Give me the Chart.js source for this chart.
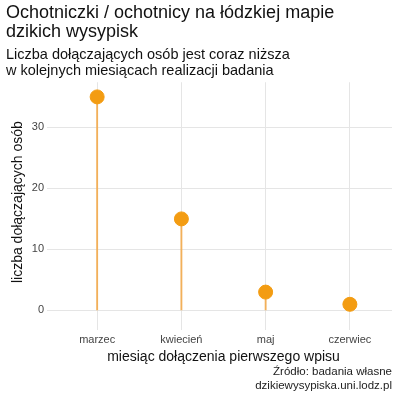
<!DOCTYPE html>
<html><head><meta charset="utf-8">
<script src="https://cdn.jsdelivr.net/npm/chart.js"></script>
<style>body{margin:0;background:#fff;font-family:"Liberation Sans",Arial,sans-serif}
#w{position:relative;width:400px;height:400px}
.cap{position:absolute;right:8px;font-size:11.5px;color:#222;text-align:right}</style>
</head><body><div id="w"><canvas id="c" width="400" height="400"></canvas>
<div class="cap" style="top:365px">Źródło: badania własne</div>
<div class="cap" style="top:379px">dzikiewysypiska.uni.lodz.pl</div></div>
<script>
const categories=["marzec","kwiecień","maj","czerwiec"];
const values=[35,15,3,1];
const yTicks=[0,10,20,30];
const F="'Liberation Sans', Arial, sans-serif";
new Chart(document.getElementById('c'),{
 data:{labels:categories,datasets:[
  {type:'line',data:values,showLine:false,pointRadius:7,pointHoverRadius:7,pointBackgroundColor:'#f39c12',pointBorderColor:'#f39c12'},
  {type:'bar',data:values,backgroundColor:'#f2b05a',barThickness:1.2}
 ]},
 options:{responsive:false,animation:false,
  layout:{padding:{left:6,right:8,bottom:30,top:0}},
  plugins:{legend:{display:false},tooltip:{enabled:false},
   title:{display:true,align:'start',text:['Ochotniczki / ochotnicy na łódzkiej mapie','dzikich wysypisk'],color:'#111',font:{family:F,size:18,weight:'normal',lineHeight:1.05},padding:{top:4,bottom:6}},
   subtitle:{display:true,align:'start',text:['Liczba dołączających osób jest coraz niższa','w kolejnych miesiącach realizacji badania'],color:'#111',font:{family:F,size:14.5,lineHeight:1.05},padding:{bottom:4}}},
  scales:{
   x:{grid:{color:'#e5e5e5',offset:false},border:{display:false},offset:true,ticks:{color:'#444',font:{family:F,size:11}},
      title:{display:true,text:'miesiąc dołączenia pierwszego wpisu',color:'#111',font:{family:F,size:14},padding:{top:0}}},
   y:{min:-1.9,max:37.4,grid:{color:'#e5e5e5'},border:{display:false},
      afterBuildTicks:a=>{a.ticks=yTicks.map(v=>({value:v}))},
      ticks:{color:'#444',font:{family:F,size:11}},
      title:{display:true,text:'liczba dołączających osób',color:'#111',font:{family:F,size:14},padding:{bottom:2}}}
  }}
});
</script></body></html>
